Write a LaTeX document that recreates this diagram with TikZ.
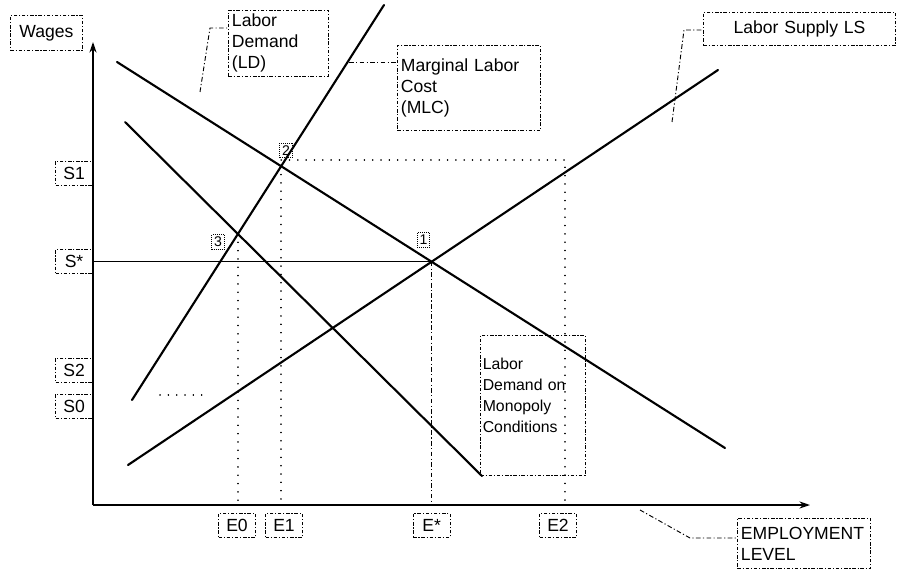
\documentclass[tikz,border=0pt]{standalone}
\usepackage{fontspec}
\setmainfont{Liberation Sans}
\usetikzlibrary{arrows.meta, positioning, calc, intersections}
\newcommand{\pxu}{0.3mm}

\begin{document}
\begin{tikzpicture}[x=0.3mm, y=-0.3mm,
    curve/.style={line width=1.8pt, line cap=round},
    axis/.style={-{Stealth[length=9pt, width=6pt]}, line width=1.2pt},
    guide/.style={line width=1.3pt, dash pattern=on 0.1pt off 7pt, line cap=round},
    leader/.style={line width=0.8pt, dash pattern=on 4pt off 2pt on 1pt off 2pt},
    tag/.style={draw, line width=0.8pt, dash pattern=on 3pt off 1.5pt on 1pt off 1.5pt,
        font=\fontsize{15}{18}\selectfont, align=left, inner sep=3pt, anchor=north west},
    axtag/.style={tag, align=center, minimum width=37*\pxu, minimum height=24*\pxu, inner sep=1pt},
    pointtag/.style={draw, densely dotted, line width=0.7pt, font=\fontsize{12}{14}\selectfont, inner sep=2pt}
]
    \useasboundingbox (0,0) rectangle (898,571);

    % axes
    \coordinate (orig) at (93,505);
    \coordinate (ytop) at (93,42);
    \coordinate (xend) at (810,505);
    \draw[axis] (orig) -- (ytop);
    \draw[axis] (orig) -- (xend);

    % demand, supply and cost curves
    \coordinate (ldA)  at (117,62);  \coordinate (ldB)  at (725,448);
    \coordinate (lsA)  at (128,465); \coordinate (lsB)  at (718,70);
    \coordinate (mlcA) at (132,400); \coordinate (mlcB) at (384,5);
    \coordinate (monA) at (125,122); \coordinate (monB) at (482,476);
    \draw[curve, name path=ld]  (ldA)  -- (ldB);
    \draw[curve, name path=ls]  (lsA)  -- (lsB);
    \draw[curve, name path=mlc] (mlcA) -- (mlcB);
    \draw[curve, name path=mon] (monA) -- (monB);

    \path[name intersections={of=ld and ls, by=eq}];
    \path[name intersections={of=ld and mlc, by=ptb}];
    \path[name intersections={of=mon and mlc, by=ptc}];

    % guide lines
    \draw[line width=1pt] (eq -| orig) -- (eq);
    \draw[leader] (eq) -- (eq |- orig);
    \draw[guide] (ptc) -- (ptc |- orig);
    \draw[guide] (ptb) -- (ptb |- orig);
    \coordinate (topE2) at (565,160);
    \draw[guide] (ptb |- topE2) -- (topE2) -- (topE2 |- orig);
    \coordinate (lowA) at (160,395);
    \coordinate (lowB) at (205,395);
    \draw[guide] (lowA) -- (lowB);

    % axis labels
    \node[axtag, minimum width=72*\pxu, minimum height=35*\pxu] (wages) at (10,15) {Wages};
    \node[axtag, anchor=east] (sone)  at (93,173) {S1};
    \node[axtag, anchor=east] (sstar) at (eq -| orig) {S*};
    \node[axtag, anchor=east] (stwo)  at (93,370) {S2};
    \node[axtag, anchor=east] (szero) at (93,406) {S0};
    \node[axtag, anchor=north] (ezero) at (237,513) {E0};
    \node[axtag, anchor=north] (eone)  at (284,513) {E1};
    \node[axtag, anchor=north] (estar) at ($(eq |- orig)+(0,8)$) {E*};
    \node[axtag, anchor=north] (etwo)  at (558,513) {E2};

    % curve names
    \node[tag, text width=93*\pxu, minimum height=65*\pxu] (ldbox) at (228,10) {Labor\\Demand\\(LD)};
    \node[tag, text width=136*\pxu, minimum height=85*\pxu] (mlcbox) at (397,45) {Marginal Labor\\Cost\\(MLC)};
    \node[tag, align=center, text width=185*\pxu, minimum height=33*\pxu] (lsbox) at (703,12) {Labor Supply LS};
    \node[tag, font=\fontsize{13.5}{18}\selectfont, inner sep=2pt, text width=100*\pxu, minimum height=140*\pxu] (monbox) at (480,335) {Labor\\Demand on\\Monopoly\\Conditions\\ \rule{0pt}{6mm}};
    \node[tag, text width=126*\pxu, minimum height=50*\pxu] (empbox) at (737,518) {EMPLOYMENT\\LEVEL};

    % points
    \node[pointtag] (ntwo)   at ($(ptb)+(5,-16)$) {2};
    \node[pointtag] (nthree) at ($(ptc)+(-20,8)$) {3};
    \node[pointtag] (none)   at ($(eq)+(-8,-22)$) {1};

    % leaders
    \coordinate (ldfoot) at (200,92);
    \coordinate (ldknee) at (210,28);
    \draw[leader] (ldfoot) -- (ldknee) -- (ldknee -| ldbox.west);
    \coordinate (mlcfoot) at (349,62);
    \draw[leader] (mlcfoot) -- (mlcfoot -| mlcbox.west);
    \coordinate (lsfoot) at (672,122);
    \coordinate (lsknee) at (684,30);
    \draw[leader] (lsfoot) -- (lsknee) -- (lsknee -| lsbox.west);
    \coordinate (empfoot) at (640,510);
    \coordinate (empknee) at (690,538);
    \draw[leader] (empfoot) -- (empknee) -- (empknee -| empbox.west);
\end{tikzpicture}
\end{document}
